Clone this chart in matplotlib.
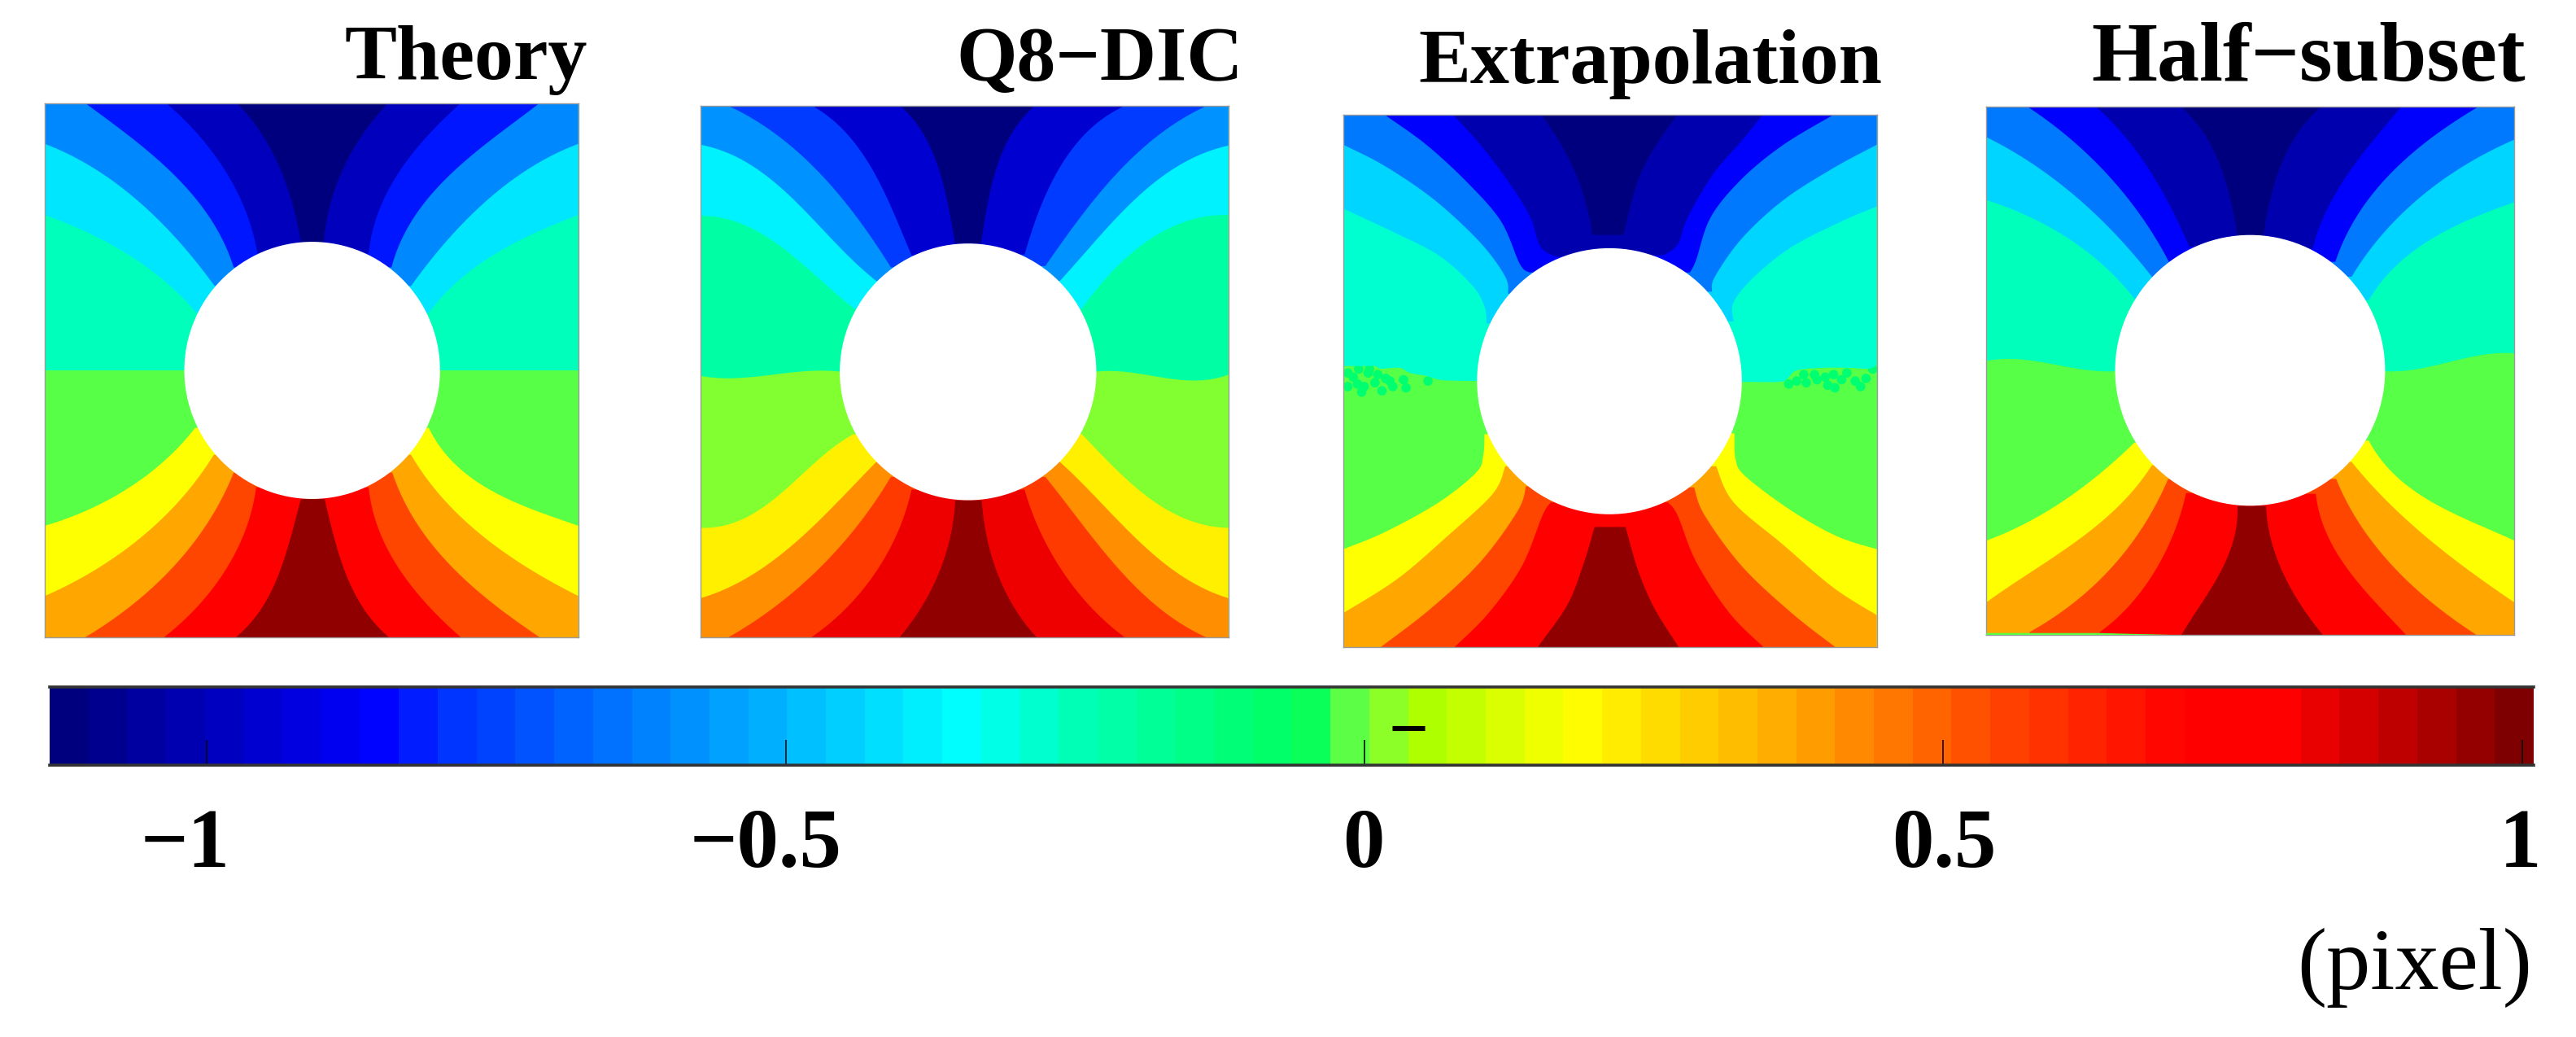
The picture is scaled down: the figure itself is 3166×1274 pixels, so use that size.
import numpy as np
import matplotlib
matplotlib.use("Agg")
import matplotlib.pyplot as plt
from matplotlib.colors import LinearSegmentedColormap, Normalize
from matplotlib.patches import Ellipse
from matplotlib.transforms import ScaledTranslation

W, H = 3166, 1274
plt.rcParams['font.family'] = ['Liberation Serif', 'DejaVu Serif']

# ---------- data -----------------------------------------------------------
titles = ["Theory", "Q8\u2212DIC", "Extrapolation", "Half\u2212subset"]
tick_values = [-1, -0.5, 0, 0.5, 1]
tick_labels = ["\u22121", "\u22120.5", "0", "0.5", "1"]
unit_label = "(pixel)"
bar_range = (-1.136, 1.01)
bar_levels = 64

# field value of each displayed band, top centre to bottom centre
theory_bands = [-1.136, -1.002, -0.836, -0.608, -0.406, -0.256, -0.014, 0.184, 0.381, 0.553, 0.731, 0.978]
q8_bands = [-1.136, -0.964, -0.778, -0.584, -0.381, -0.213, 0.014, 0.216, 0.42, 0.581, 0.828, 0.978]
extrap_bands = [-1.136, -1.035, -0.868, -0.645, -0.443, -0.288, -0.014, 0.184, 0.381, 0.553, 0.731, 0.978]
half_bands = [-1.136, -1.035, -0.868, -0.645, -0.443, -0.256, -0.014, 0.184, 0.381, 0.553, 0.731, 0.978]

# contour traces: outer edge -> hole.  Order: b1..b6 (upper), c7..c11 (lower)
theory_left = [
    [(570,242),(640,330),(685,420),(712,510),(725,570)],
    [(400,242),(480,320),(555,420),(600,520),(620,595)],
    [(205,242),(330,335),(430,420),(510,520),(563,628)],
    [(108,338),(220,390),(340,480),(440,575),(517,672)],
    [(108,505),(200,540),(310,600),(410,670),(473,735)],
    [(108,870),(445,870)],
    [(108,1235),(200,1205),(300,1150),(390,1090),(470,1005)],
    [(108,1400),(230,1340),(340,1260),(440,1170),(515,1068)],
    [(205,1497),(330,1410),(430,1320),(510,1210),(563,1110)],
    [(395,1497),(480,1420),(555,1320),(600,1220),(617,1145)],
    [(568,1497),(640,1410),(690,1300),(710,1210),(725,1172)],
]
theory_right = [
    [(935,242),(865,330),(815,420),(790,510),(780,570)],
    [(1110,242),(1030,320),(950,420),(905,520),(888,595)],
    [(1300,242),(1180,330),(1075,420),(990,520),(943,628)],
    [(1393,338),(1280,390),(1165,480),(1065,575),(990,672)],
    [(1393,505),(1290,545),(1190,600),(1095,665),(1033,735)],
    [(1393,870),(1060,870)],
    [(1393,1235),(1290,1200),(1190,1155),(1100,1095),(1033,1005)],
    [(1393,1400),(1280,1340),(1165,1260),(1065,1170),(990,1068)],
    [(1300,1497),(1180,1410),(1075,1320),(1000,1220),(945,1110)],
    [(1110,1497),(1030,1420),(950,1320),(905,1220),(888,1145)],
    [(937,1497),(865,1410),(815,1300),(795,1210),(782,1172)],
]
q8_left = [
    [(600,248),(660,320),(700,420),(722,510),(733,572)],
    [(388,248),(470,310),(550,430),(600,530),(628,600)],
    [(185,248),(300,315),(420,420),(510,530),(578,628)],
    [(120,340),(200,365),(300,430),(400,525),(480,605),(543,660)],
    [(120,507),(190,512),(270,550),(350,610),(430,670),(490,725)],
    [(120,883),(210,888),(320,877),(455,873)],
    [(120,1240),(200,1228),(280,1185),(380,1100),(488,1020)],
    [(120,1405),(220,1365),(340,1280),(440,1190),(543,1085)],
    [(185,1498),(300,1425),(420,1320),(510,1220),(578,1120)],
    [(385,1498),(470,1430),(550,1330),(600,1240),(628,1150)],
    [(598,1498),(660,1410),(705,1320),(725,1230),(733,1175)],
]
q8_right = [
    [(925,248),(865,320),(825,420),(805,510),(795,572)],
    [(1143,248),(1050,310),(970,420),(925,520),(900,598)],
    [(1340,248),(1220,320),(1110,420),(1020,530),(950,625)],
    [(1391,342),(1310,370),(1210,430),(1100,535),(985,660)],
    [(1391,505),(1310,515),(1220,550),(1120,630),(1038,725)],
    [(1391,880),(1285,893),(1190,880),(1073,873)],
    [(1391,1240),(1310,1225),(1220,1185),(1130,1110),(1038,1020)],
    [(1391,1405),(1300,1370),(1200,1290),(1090,1190),(985,1085)],
    [(1340,1498),(1240,1440),(1130,1340),(1030,1220),(950,1120)],
    [(1143,1498),(1060,1430),(980,1320),(925,1230),(900,1150)],
    [(930,1498),(865,1410),(825,1320),(805,1240),(797,1175)],
]
extrap_left = [
    [(578,270),(625,340),(665,420),(690,500),(700,552)],
    [(365,270),(430,340),(500,430),(550,510),(575,580),(612,603)],
    [(200,270),(300,340),(400,430),(480,520),(525,620),(548,640)],
    [(100,340),(200,390),(320,470),(430,570),(490,650),(497,690)],
    [(100,490),(220,545),(330,600),(410,670),(440,720),(445,760)],
    [(100,860),(143,860),(176,860),(190,866),(235,864),(261,876),(300,883),(339,893),(421,895)],
    [(100,1290),(200,1250),(330,1180),(420,1110),(437,1070),(440,1020)],
    [(100,1440),(230,1360),(350,1260),(460,1160),(490,1095)],
    [(190,1520),(310,1430),(430,1320),(520,1200),(540,1142)],
    [(368,1520),(450,1440),(530,1330),(580,1210),(600,1180)],
    [(568,1520),(640,1420),(680,1320),(705,1238)],
]
extrap_right = [
    [(905,270),(860,330),(815,410),(790,490),(775,552)],
    [(1110,270),(1060,330),(990,410),(930,510),(905,575),(870,600)],
    [(1280,270),(1160,340),(1060,420),(985,510),(950,610),(935,640)],
    [(1385,340),(1280,395),(1160,470),(1060,560),(995,650),(988,685)],
    [(1385,485),(1300,520),(1180,580),(1090,650),(1040,710),(1040,755)],
    [(1385,857),(1366,866),(1319,864),(1254,864),(1192,870),(1170,889),(1150,897),(1064,897)],
    [(1385,1290),(1290,1260),(1180,1200),(1070,1120),(1045,1080),(1042,1018)],
    [(1385,1445),(1280,1380),(1160,1280),(1040,1180),(998,1095)],
    [(1285,1520),(1180,1440),(1060,1330),(970,1210),(945,1145)],
    [(1112,1520),(1030,1440),(950,1320),(905,1210),(882,1180)],
    [(908,1520),(850,1430),(810,1340),(780,1238)],
]
half_left = [
    [(598,250),(660,320),(700,400),(725,490),(738,553)],
    [(390,250),(460,320),(530,410),(590,520),(620,580)],
    [(222,250),(320,320),(420,410),(510,520),(570,615)],
    [(122,322),(230,380),(350,470),(450,560),(528,650)],
    [(122,470),(200,495),(320,560),(420,630),(488,705)],
    [(122,848),(240,848),(360,868),(438,872)],
    [(122,1270),(200,1235),(310,1180),(400,1110),(485,1040)],
    [(122,1415),(220,1355),(340,1270),(450,1190),(528,1093)],
    [(228,1485),(320,1420),(430,1340),(510,1220),(568,1125)],
    [(400,1485),(480,1420),(545,1320),(600,1220),(612,1158)],
    [(600,1492),(660,1400),(715,1310),(730,1250),(738,1188)],
]
half_right = [
    [(945,250),(880,320),(840,400),(815,480),(802,553)],
    [(1140,250),(1080,320),(1000,420),(950,510),(922,585)],
    [(1330,250),(1220,320),(1110,410),(1030,510),(978,615)],
    [(1417,328),(1310,380),(1190,460),(1085,560),(1018,650)],
    [(1417,475),(1320,510),(1200,570),(1110,640),(1060,705)],
    [(1417,830),(1330,835),(1190,865),(1100,872)],
    [(1417,1270),(1290,1215),(1180,1160),(1110,1100),(1060,1035)],
    [(1417,1415),(1300,1340),(1180,1240),(1080,1160),(1018,1085)],
    [(1325,1492),(1220,1420),(1110,1320),(1030,1220),(980,1125)],
    [(1152,1492),(1080,1420),(990,1310),(945,1230),(930,1160)],
    [(948,1492),(880,1400),(830,1300),(815,1240),(808,1188)],
]
# noisy patches along the zero contour in the Extrapolation panel
speck_value = -0.1
speck_x = [111,124,111,134,150,144,160,176,193,183,212,219,245,251,304,137,163,202,
           1192,1173,1215,1241,1261,1267,1284,1281,1300,1313,1333,1346,1359,1375,1235,1209]
speck_y = [876,886,908,902,908,921,876,899,918,880,895,908,892,911,895,867,867,889,
           895,902,899,892,886,905,911,880,892,876,895,908,889,867,880,880]
# sliver of the zero band along the bottom edge of the Half-subset panel
strip_x = [122, 400, 600, 122]
strip_y = [1487, 1487, 1492, 1492]

# ---------- layout ---------------------------------------------------------
# crop units -> reference pixels: (x origin, x scale, y scale)
panel_frames = [(0, 1.96, 1.912), (800, 1.96, 1.912), (1600, 1.96, 1.912), (2380, 1.995, 1.912)]
panel_limits = [(108, 1393, 242, 1497), (120, 1391, 248, 1498), (100, 1385, 270, 1520), (122, 1417, 250, 1492)]
holes = [(752, 870, 308, 302), (764, 873.5, 309, 301.5), (741, 895.5, 319, 312.5), (769, 870, 331, 318)]
title_right = [722, 1528, 2313, 3104]
title_base = [97, 99, 102, 99]
title_size = [69, 69, 69, 75]
panel_smooth = ['fit', 'fit', 'spline', 'fit']

# colour scale as printed under the panels
cmap_nodes = [(0, (0,0,127)), (.125, (0,0,255)), (.157, (0,50,255)), (.366, (0,255,255)), (.41, (0,255,185)),
              (.506, (0,255,90)), (.523, (90,255,70)), (.536, (130,255,50)), (.553, (170,255,0)),
              (.615, (255,255,0)), (.707, (255,165,0)), (.787, (255,70,0)), (.864, (255,0,0)),
              (.904, (255,0,0)), (1, (127,0,0))]
cmap = LinearSegmentedColormap.from_list("bar", [(p, tuple(c/255 for c in rgb)) for p, rgb in cmap_nodes], N=bar_levels)
fine_cmap = LinearSegmentedColormap.from_list("fine", [(p, tuple(c/255 for c in rgb)) for p, rgb in cmap_nodes], N=512)
norm = Normalize(*bar_range)

fig = plt.figure(figsize=(W/100, H/100), dpi=100, facecolor='white')


def trace_fit(points):
    """Draw a read-off contour as one smooth arc, keeping its end points."""
    pts = np.asarray(points, float)
    if len(pts) < 3:
        return pts
    t = np.r_[0, np.cumsum(np.hypot(*np.diff(pts, axis=0).T))]
    t /= t[-1]
    deg = min(3, len(pts) - 1)
    tt = np.linspace(0, 1, 60)
    out = np.column_stack([np.polyval(np.polyfit(t, pts[:, j], deg), tt) for j in (0, 1)])
    out += (1 - tt)[:, None]*(pts[0] - out[0]) + tt[:, None]*(pts[-1] - out[-1])
    return out


def trace_spline(points, steps=8):
    """Catmull-Rom pass through the read-off points."""
    pts = np.asarray(points, float)
    if len(pts) < 3:
        return pts
    p = np.vstack([pts[0], pts, pts[-1]])
    out = [pts[0]]
    for i in range(1, len(p) - 2):
        for u in np.linspace(0, 1, steps + 1)[1:]:
            out.append(0.5*((2*p[i]) + (p[i+1]-p[i-1])*u + (2*p[i-1]-5*p[i]+4*p[i+1]-p[i+2])*u**2
                            + (3*p[i]-p[i-1]-3*p[i+1]+p[i+2])*u**3))
    return np.array(out)


panels = [(theory_left, theory_right, theory_bands), (q8_left, q8_right, q8_bands),
          (extrap_left, extrap_right, extrap_bands), (half_left, half_right, half_bands)]

for i, (left, right, bands) in enumerate(panels):
    ox, sx, sy = panel_frames[i]
    L, R, T, B = panel_limits[i]
    x0, x1 = ox + L/sx, ox + R/sx
    y0, y1 = T/sy, B/sy
    trace = trace_fit if panel_smooth[i] == 'fit' else trace_spline
    ax = fig.add_axes([x0/W, 1 - y1/H, (x1-x0)/W, (y1-y0)/H])
    ax.set_xlim(L, R)
    ax.set_ylim(B, T)
    ax.set_xticks([])
    ax.set_yticks([])
    for s in ax.spines.values():
        s.set_color('#9a9a9a')
        s.set_linewidth(1.0)
    ax.set_facecolor(fine_cmap(norm(bands[6])))
    if i == 2:
        ax.scatter(speck_x, speck_y, s=70, marker='o', c=[speck_value]*len(speck_x),
                   cmap=fine_cmap, norm=norm, linewidths=0, zorder=1)
    # upper half: paint from the mid line inwards
    for k in range(5, -1, -1):
        l, r = trace(left[k]), trace(right[k])[::-1]
        poly = np.vstack([l, r, [(R, T), (L, T)]]) if l[0, 0] <= L else np.vstack([l, r])
        ax.fill(poly[:, 0], poly[:, 1], color=fine_cmap(norm(bands[k])), lw=0, zorder=2)
    # lower half
    for k in range(6, 11):
        l, r = trace(left[k]), trace(right[k])[::-1]
        poly = np.vstack([l, r, [(R, B), (L, B)]]) if l[0, 0] <= L else np.vstack([l, r, [(r[-1, 0], B), (l[0, 0], B)]])
        ax.fill(poly[:, 0], poly[:, 1], color=fine_cmap(norm(bands[k+1])), lw=0, zorder=2)
    if i == 3:
        ax.fill(strip_x, strip_y, color=fine_cmap(norm(bands[6])), lw=0, zorder=3)
    cx, cy, rx, ry = holes[i]
    ax.add_patch(Ellipse((cx, cy), 2*rx, 2*ry, fc='white', ec='none', zorder=5))
    fig.text(title_right[i]/W, 1 - title_base[i]/H, titles[i], ha='right', va='baseline',
             fontsize=title_size[i], fontweight='bold', color='black')

# colour bar
bar = fig.add_axes([61/W, 1 - 940/H, (3114-61)/W, (940-844)/H])
edges = np.linspace(*bar_range, bar_levels + 1)
bar.pcolormesh(edges, [0, 1], ((edges[:-1] + edges[1:])/2)[None, :], cmap=cmap, norm=norm)
bar.set_xlim(*bar_range)
bar.set_ylim(0, 1)
bar.set_yticks([])
bar.set_xticks(tick_values)
bar.set_xticklabels(tick_labels, fontsize=74, fontweight='bold')
bar.tick_params(axis='x', direction='in', length=22, width=1.1, color='black', pad=38)
tick_shift = [-27, -25, -1, 1, -2]
for lab, dx in zip(bar.get_xticklabels(), tick_shift):
    lab.set_transform(lab.get_transform() + ScaledTranslation(dx/100, 0, fig.dpi_scale_trans))
for s in ('left', 'right'):
    bar.spines[s].set_visible(False)
for s in ('top', 'bottom'):
    bar.spines[s].set_linewidth(2.6)
    bar.spines[s].set_color('#333333')

fig.text(1731/W, 1 - 924/H, "\u2212", ha='center', va='baseline', fontsize=62, fontweight='bold', color='black')
fig.text(3112/W, 1 - 1215/H, unit_label, ha='right', va='baseline', fontsize=78, color='black')

fig.savefig("out.png", dpi=100, facecolor='white')
